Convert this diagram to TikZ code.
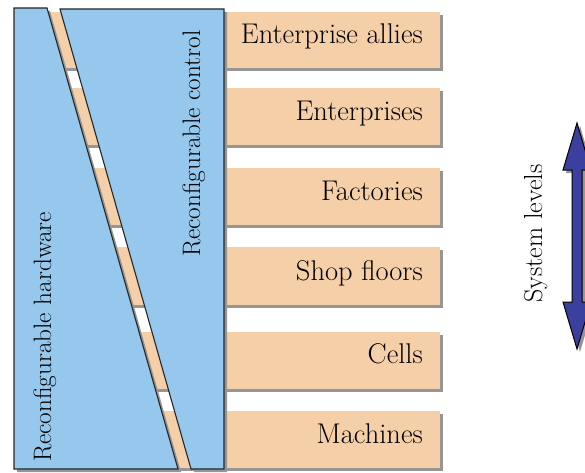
\documentclass[tikz,border=0pt]{standalone}
\definecolor{skyfill}{RGB}{149,200,236}
\definecolor{tanfill}{RGB}{245,207,168}
\definecolor{arrowblue}{RGB}{59,63,158}
\definecolor{shadowgray}{RGB}{150,150,150}
\tikzset{
  levelbox/.style={fill=tanfill, draw=none},
  boxshadow/.style={fill=shadowgray, draw=none},
  bluepart/.style={fill=skyfill, draw=black!85, line width=1.1pt, line join=miter},
  levellabel/.style={anchor=base east, inner sep=0pt, font=\rmfamily\fontsize{28.5}{30}\selectfont},
  sidelabel/.style={anchor=base west, rotate=90, inner sep=0pt, font=\rmfamily\fontsize{25.2}{27}\selectfont},
}
\begin{document}
\begin{tikzpicture}[x=1pt,y=1pt]
\useasboundingbox (0,0) rectangle (585,472);
\clip (0,0) rectangle (585,472);
% level boxes (extend behind the blue parts)
\foreach \t/\b in {460/404, 384/327, 304/247, 225/167, 140/83, 61/4}{
  \fill[boxshadow] (43,\t-3) rectangle (443,\b-3);
  \fill[levelbox] (40,\t) rectangle (440,\b);
}
% shadows of blue parts
\fill[boxshadow] (17,461) -- (50,461) -- (181,0) -- (17,0) -- cycle;
\fill[boxshadow] (63,460) -- (227,460) -- (227,0) -- (194,0) -- cycle;
% blue parts
\draw[bluepart] (14,464) -- (47,464) -- (178,3) -- (14,3) -- cycle;
\draw[bluepart] (60,463) -- (224,463) -- (224,3) -- (191,3) -- cycle;
% labels
\node[levellabel] (allies) at (423,428) {Enterprise allies};
\node[levellabel] (enterprises) at (423,351.5) {Enterprises};
\node[levellabel] (factories) at (423,271.5) {Factories};
\node[levellabel] (shops) at (423,192) {Shop floors};
\node[levellabel] (cells) at (423,108.5) {Cells};
\node[levellabel] (machines) at (423,29) {Machines};
\node[sidelabel] (hardware) at (51,10) {Reconfigurable hardware};
\node[sidelabel] (control) at (200,215) {Reconfigurable control};
\node[sidelabel, font=\rmfamily\fontsize{26}{28}\selectfont] (levels) at (542,169) {System levels};
% double arrow
\fill[boxshadow] (580,346) -- (594,299) -- (585,299) -- (585,167) -- (594,167) -- (580,120) -- (566,167) -- (575,167) -- (575,299) -- (566,299) -- cycle;
\draw[fill=arrowblue, draw=black, line width=1pt, line join=miter]
  (577,349) -- (591,302) -- (582,302) -- (582,170) -- (591,170) -- (577,123) -- (563,170) -- (572,170) -- (572,302) -- (563,302) -- cycle;
\end{tikzpicture}
\end{document}
